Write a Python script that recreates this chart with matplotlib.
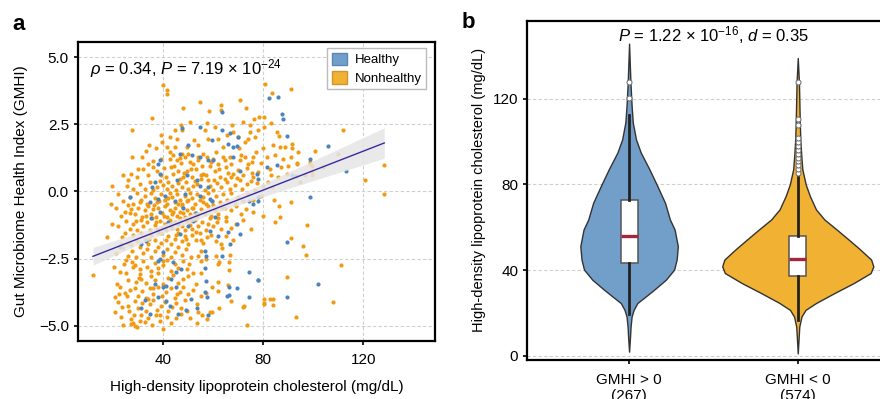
import numpy as np
import matplotlib.pyplot as plt
from matplotlib.patches import Patch
from matplotlib.transforms import blended_transform_factory

plt.rcParams['font.family'] = ['Liberation Sans', 'DejaVu Sans']
plt.rcParams['mathtext.fontset'] = 'custom'
plt.rcParams['mathtext.rm'] = 'Liberation Sans'
plt.rcParams['mathtext.it'] = 'Liberation Sans:italic'
plt.rcParams['axes.unicode_minus'] = True

# ---- panel a: HDL (mg/dL) vs GMHI ----
nonhealthy_pts = np.array([
    # GMHI > 0
    (40, 3.96), (41.3, 3.77), (41.3, 3.62), (54.7, 3.33), (58.4, 2.99), (63.1, 3.21), (63.1, 3.02),
    (80.7, 3.99), (83.3, 3.67), (91, 3.81),
    (35.6, 2.75), (27.5, 2.28), (67.6, 2.46), (78.3, 2.77), (80.4, 2.77), (74.7, 2.46), (74.7, 2.21),
    (46.9, 2.49), (47.3, 2.30), (56.7, 2.28), (68, 2.21), (78, 2.28), (80.4, 2.40), (112, 2.28),
    (38.9, 2.09), (42.7, 2.03), (45.3, 1.97), (34.3, 1.72), (41.3, 1.65), (44.7, 1.65), (49.3, 1.65),
    (54, 1.72), (58, 1.97), (62, 1.97), (64, 1.65), (70, 2.03), (74, 1.97), (76.7, 2.03), (84, 1.72),
    (86.7, 1.65), (88.7, 1.65), (91.3, 1.78), (91.5, 1.60),
    (47.3, 1.41), (93.3, 1.06), (27.3, 1.28), (31.3, 1.28), (34, 1.03), (44, 1.34), (45.3, 1.16),
    (48.7, 1.28), (52, 1.03), (54, 1.16), (56, 1.41), (60, 1.22), (62, 1.03), (64.7, 1.16), (66.7, 1.28),
    (70.7, 1.16), (72.7, 1.28), (74, 1.03), (75.3, 1.09), (98.7, 1.03), (109.7, 1.38), (93.5, 1.04),
    (91.2, 1.28), (98.5, 1.10), (36, 1.15), (39, 1.22), (42.6, 1.22), (46.6, 1.26), (50.5, 1.10),
    (57.5, 1.30), (61, 1.45),
    (36, 0.91), (37.3, 0.78), (49.3, 0.78), (60.7, 0.78), (68, 0.66), (78, 0.72), (89.3, 0.66),
    (99.3, 0.78), (128.4, 0.97), (99.6, 0.94), (99.6, 0.60), (120.7, 0.44), (27, 0.66), (29.3, 0.53),
    (44, 0.66), (51.3, 0.53), (56, 0.66), (62.7, 0.53), (76, 0.53), (32, 0.85), (40.3, 0.88), (43, 0.90),
    (46, 0.75), (53, 0.85), (58.5, 0.95), (65, 0.90), (70, 0.80), (72, 0.60), (83, 0.60), (86, 0.55),
    (34, 0.60), (39, 0.60), (48, 0.55), (55, 0.60), (67, 0.55),
    (19.3, 0.20), (25.3, 0.22), (26, 0.41), (30.7, 0.29), (32.7, 0.10), (34.7, 0.35), (37.3, 0.16),
    (42, 0.35), (46.7, 0.47), (53.3, 0.29), (58, 0.41), (65.3, 0.35), (70.7, 0.41), (73.3, 0.29),
    (28, 0.10), (36, 0.05), (38.5, 0.40), (40, 0.25), (41.5, 0.10), (43.5, 0.20), (45, 0.05),
    (47.5, 0.15), (49, 0.35), (50, 0.10), (52, 0.20), (55, 0.45), (56.5, 0.05), (58.8, 0.20), (60, 0.05),
    (61.5, 0.30), (63, 0.15), (64.5, 0.45), (66.5, 0.10), (68.5, 0.25), (71.5, 0.10), (75, 0.40),
    (76.5, 0.05), (77.5, 0.30), (80, 0.20), (82, 0.35),
    (41, 0.55), (42.8, 1.45), (44.2, 0.95), (45.8, 0.3), (47, 1.05), (48.2, 0.7), (49.8, 1.4),
    (51, 0.85), (52.6, 0.4), (53.8, 1.3), (55.6, 0.95), (57, 0.62), (59, 1.1), (60.4, 0.42),
    (62.2, 0.82), (63.8, 1.28), (65.8, 0.68), (67.2, 1.02), (69.4, 0.5), (71, 1.35), (73.4, 0.88),
    (75.6, 0.7), (79, 1.05), (81.5, 1.3), (77, 1.45), (44.6, 2.3), (50.6, 2.6), (52.4, 1.9),
    (57.4, 2.55), (60.8, 2.4), (65.4, 2.1), (72, 2.6), (85.4, 2.2), (48, 3.1), (70.5, 3.4),
    (33, 1.5), (30, 0.85), (24, 0.6), (37, 1.6), (39.6, 1.85), (83.6, 0.15), (87.2, 0.9),
    (94.6, 0.35), (88, 1.2),
    (70.2, 1.6), (72.8, 1.85), (75.8, 1.3), (79.8, 1.6), (82.6, 0.85), (84.6, 1.35), (86.4, 2.05),
    (90, 0.95), (94, 1.45), (96.5, 0.6), (76.2, 2.7), (73, 3.1), (83, 2.55), (100.5, 1.5), (104, 0.9),
    # GMHI < 0
    (22, -0.1), (24, -0.35), (26.5, -0.2), (28, -0.45), (29.5, -0.05), (31, -0.3), (32.5, -0.15),
    (33.5, -0.45), (35, -0.05), (36.5, -0.25), (37.5, -0.4), (39, -0.1), (40.5, -0.3), (41.5, -0.45),
    (42.5, -0.05), (43.5, -0.2), (44.5, -0.4), (45.5, -0.1), (46.5, -0.3), (47.5, -0.45), (48.5, -0.15),
    (49.5, -0.35), (50.5, -0.05), (51.5, -0.25), (52.5, -0.45), (53.5, -0.1), (54.5, -0.3), (56, -0.2),
    (57, -0.45), (58, -0.05), (59.5, -0.35), (61, -0.15), (62.5, -0.4), (64, -0.1), (65.5, -0.3),
    (67, -0.05), (68.5, -0.45), (70, -0.2), (72, -0.35), (74, -0.1), (76, -0.3), (79, -0.15),
    (84.4, -0.32), (128.4, -0.1), (91, -0.4),
    (23, -0.9), (25.9, -0.52), (27.2, -0.65), (28.5, -0.85), (30, -0.6), (31.5, -0.95), (32.5, -0.7),
    (34, -0.55), (35, -0.85), (36, -0.65), (37, -0.95), (38, -0.6), (39.5, -0.8), (40.5, -0.55),
    (41.5, -0.95), (42.5, -0.7), (43.5, -0.85), (44.5, -0.6), (45.5, -0.9), (46.5, -0.75), (47.5, -0.55),
    (48.5, -0.95), (49.5, -0.7), (50.5, -0.85), (51.5, -0.6), (52.5, -0.8), (53.5, -0.95), (55, -0.65),
    (56.5, -0.85), (58, -0.55), (59, -0.9), (60.5, -0.7), (62, -0.85), (63.5, -0.6), (65, -0.95),
    (67, -0.7), (69, -0.55), (71, -0.85), (73, -0.65), (76, -0.75), (86.4, -0.53), (80, -0.9),
    (22, -1.3), (25, -1.1), (26.5, -1.4), (28, -1.2), (29.5, -1.45), (31, -1.05), (32, -1.3),
    (33.5, -1.15), (34.5, -1.45), (35.5, -1.0), (36.5, -1.25), (37.5, -1.4), (38.5, -1.1), (39.5, -1.35),
    (40.5, -1.2), (41.2, -1.45), (42.5, -1.05), (43.5, -1.35), (44.5, -1.15), (45.5, -1.4), (46.5, -1.0),
    (47.5, -1.3), (48.5, -1.45), (49.5, -1.1), (50.5, -1.25), (51.5, -1.4), (52.5, -1.05), (54, -1.3),
    (55.5, -1.15), (57, -1.45), (58.5, -1.0), (60, -1.3), (61.5, -1.15), (63, -1.4), (65, -1.1),
    (67, -1.35), (69, -1.2), (72, -1.05), (75, -1.4), (86.7, -0.96), (84.8, -1.15), (97.3, -1.26),
    (17.6, -1.7), (23.4, -1.7), (26, -1.9), (28, -1.6), (29.5, -1.85), (31, -1.55), (32.5, -1.75),
    (34, -1.95), (35, -1.6), (36.5, -1.8), (38, -1.55), (39, -1.9), (42, -1.65), (43, -1.95),
    (44.5, -1.75), (46, -1.55), (47.5, -1.85), (48.5, -1.65), (50, -1.95), (51.5, -1.6), (53, -1.8),
    (54.5, -1.55), (56, -1.9), (57.5, -1.7), (59, -1.6), (61, -1.85), (63, -1.95), (65, -1.65),
    (68, -1.8), (91, -1.74), (95.7, -2.03),
    (24, -2.1), (26, -2.4), (27.5, -2.2), (29, -2.45), (30.5, -2.05), (32, -2.3), (33.5, -2.15),
    (35, -2.45), (36.5, -2.2), (38, -2.05), (40, -2.35), (41.5, -2.15), (43, -2.45), (44.5, -2.25),
    (46, -2.05), (47.5, -2.35), (49, -2.15), (51, -2.45), (54, -2.39), (55, -2.2), (57.1, -2.5),
    (61, -2.39), (63.5, -2.1), (66.7, -2.38), (96.9, -2.35),
    (27.5, -2.64), (27.9, -2.82), (28.6, -2.72), (30.5, -2.9), (32, -2.6), (33.5, -2.8), (35, -2.95),
    (36.5, -2.65), (38, -2.85), (40, -2.75), (41.5, -2.55), (43, -2.95), (44.5, -2.7), (46, -2.85),
    (48, -2.6), (49.5, -2.9), (52, -3.03), (55, -2.57), (55, -3.03), (61.8, -2.68), (62.4, -2.64),
    (66.3, -2.61), (66.1, -2.93), (111, -2.72),
    (11.8, -3.12), (21.6, -3.45), (22.8, -3.0), (30.6, -3.07), (31.2, -3.26), (33, -3.4), (35, -3.15),
    (36.5, -3.3), (38, -3.05), (40, -3.45), (42, -3.2), (44, -3.1), (46, -3.4), (48, -3.25), (50, -3.15),
    (53, -3.45), (62, -3.38), (66, -3.47), (89.6, -3.18),
    (20.6, -3.94), (22.8, -3.54), (24.8, -3.76), (28.8, -3.6), (29.9, -3.88), (31.5, -3.7), (33, -3.95),
    (34.5, -3.6), (36, -3.8), (38, -3.55), (39.5, -3.9), (41, -3.75), (43, -3.6), (44.5, -3.95),
    (46.5, -3.75), (48, -3.55), (50, -3.82), (52, -3.65), (55, -3.9), (57.2, -3.79), (59.6, -3.57),
    (62, -3.7), (80.3, -4.0),
    (20.8, -4.5), (25.9, -4.25), (28.8, -4.07), (30, -4.35), (31.5, -4.15), (33, -4.45), (34.5, -4.2),
    (36, -4.05), (37.5, -4.4), (39, -4.25), (40.5, -4.1), (42, -4.45), (43.5, -4.3), (45, -4.15),
    (47, -4.35), (48.5, -4.05), (49.3, -4.44), (53.4, -4.19), (54, -4.5), (58.7, -4.5), (59.3, -4.47),
    (62.4, -4.32), (67, -4.09), (72, -4.3), (72.4, -4.25), (80.3, -4.2), (82.7, -4.0), (84, -4.0),
    (84, -4.23), (80.4, -4.16), (107.7, -4.1),
    (23, -4.66), (27.2, -4.75), (27.9, -4.88), (27, -4.94), (28.6, -5.0), (29.6, -5.03), (31, -4.6),
    (32.5, -4.85), (34, -4.7), (35.5, -4.95), (37, -4.6), (38.5, -4.8), (40, -5.1), (41.5, -4.65),
    (43, -4.9), (45, -4.7), (47, -4.55), (50.7, -4.69), (57.4, -4.75), (55.5, -4.6), (73.6, -4.97),
    (92.9, -4.66),
    (26.8, -0.8), (29.2, -1.1), (30.6, -0.4), (33, -0.9), (34.2, -1.75), (36.2, -0.5), (37.2, -1.15),
    (38.4, -0.35), (39.2, -1.55), (40.2, -0.9), (41, -1.8), (42, -0.25), (43, -1.2), (44, -0.75),
    (45, -1.6), (46, -0.45), (47, -1.1), (48, -0.8), (49, -1.75), (50, -0.3), (51, -1.05), (52, -0.6),
    (53, -1.5), (54, -0.85), (55, -1.8), (56, -0.4), (57.8, -1.2), (60, -0.5), (62, -1.0),
    (64.6, -0.6), (40, -2.6), (36, -3.6), (33.8, -4.0), (30.4, -3.2), (45.6, -3.8), (50.2, -2.7),
    (38.6, -4.6), (26, -3.3), (24.2, -2.7), (53.4, -4.9), (21, -0.6), (19.6, -1.2), (24.6, -1.55),
    (27, -2.0), (25.4, -3.9), (23.6, -4.3),
    (21.2, -2.3), (22.4, -3.8), (24, -4.95), (25.2, -3.05), (26.2, -4.45), (25, -2.55), (23.2, -1.95),
    (21.8, -4.1), (26.6, -3.65), (29, -3.35), (28.4, -4.6), (30.8, -4.8), (20.2, -2.8), (24.6, -0.75),
    (19, -0.45),
])

healthy_pts = np.array([
    (63.3, 2.96), (82.4, 3.46), (86, 3.51), (87.6, 2.87), (88, 2.71), (47.3, 2.36), (54.7, 2.40),
    (63.3, 2.30), (66.7, 2.18), (70, 2.03), (59.6, 1.93), (89.3, 2.05), (66, 1.78), (68, 1.65),
    (69.3, 1.69), (50, 1.72), (106, 1.70), (38, 1.03), (38.7, 1.16), (46.7, 1.41), (51.3, 1.34),
    (54.7, 1.28), (58, 1.16), (60, 1.18), (68, 1.28), (70.7, 0.78), (77.6, 0.66), (78, 0.47),
    (81.3, 0.91), (85.6, 0.97), (98.7, 1.22), (91.3, 0.63), (92.9, 0.57), (112.9, 0.78), (36.7, 0.35),
    (38.7, 0.66), (35.3, 0.16), (45.3, 0.41), (49.3, 0.60), (53.3, 0.41), (54.7, 0.22), (58, 0.16),
    (26.6, -0.19), (38.6, -0.77), (37.9, -1.43), (41.9, -1.14), (43.2, -1.27), (46.6, -1.58),
    (45.9, -1.21), (33.2, -1.83), (31.2, -1.95), (22.6, -2.08), (39.9, -2.26), (38.6, -2.51),
    (37.9, -2.57), (43.9, -2.64), (47.2, -2.89), (45.2, -3.01), (43.2, -3.26), (41.2, -3.51),
    (36.6, -3.45), (39.9, -3.57), (45.2, -3.57), (41.2, -4.07), (42.6, -4.25), (37.9, -3.94),
    (32.6, -4.04), (31.2, -4.32), (34.6, -4.56), (45.9, -4.56), (49.2, -4.42), (37.9, -0.27),
    (44.6, -0.34), (40.8, -0.15), (34.6, -0.4), (48.6, -0.09), (54.7, -0.15), (58.7, -0.27),
    (59.4, -0.34), (60.7, -0.96), (52, -1.08), (50, -1.27), (58.7, -1.46), (62, -1.64), (66, -1.52),
    (66.7, -1.95), (70.7, -1.58), (69.4, -1.21), (56.7, -2.2), (57, -2.39), (63.6, -2.39),
    (56.7, -2.86), (57.2, -3.32), (56.6, -3.72), (57.6, -3.94), (51.1, -4.0), (53.4, -4.32),
    (57.8, -4.59), (65.4, -3.88), (66.2, -3.57), (69.4, -3.59), (74.4, -2.98), (77.9, -3.29),
    (74.4, -3.92), (77.8, -0.37), (76, -0.46), (78, -0.2), (74.3, -0.34), (98.7, -0.19),
    (89.6, -1.89), (89.6, -3.91), (102, -3.44), (78, -3.28), (66.4, -3.85), (35, -1.0), (48, -0.6),
    (53, -0.8),
])

# ---- panel b: violin outlines (HDL value, half width) and box stats ----
groups = ['GMHI > 0\n(267)', 'GMHI < 0\n(574)']
pos_levels = [1.9, 8, 13.6, 18.3, 21.4, 24.6, 27.7, 30.8, 35.5, 40.2, 44.9, 51.1, 58.9, 63.6,
              71.4, 80, 87.1, 94.9, 101, 108.9, 116.7, 127.7, 145.7]
pos_half = [0, .005, .009, .015, .027, .049, .099, .148, .218, .267, .282, .289, .270, .242,
            .213, .163, .120, .069, .041, .022, .015, .008, 0]
neg_levels = [1.1, 8, 13.6, 18.3, 21.4, 24.6, 29.3, 33.9, 38.6, 41.7, 44.9, 49.6, 54.2, 58.9,
              63.6, 68.3, 74.5, 80, 87.1, 93.3, 101, 109, 127.7, 139]
neg_half = [0, .005, .009, .022, .046, .108, .218, .331, .432, .448, .435, .370, .302, .231,
            .158, .108, .072, .047, .027, .021, .015, .012, .007, 0]
box_q1 = [43.1, 37.0]
box_med = [56.0, 45.2]
box_q3 = [72.7, 56.1]
whisker_lo = [19.5, 16.7]
whisker_hi = [112.4, 84.5]
fliers = [[120.2, 128.0],
          [85.5, 87.1, 89.1, 90.9, 92.5, 94.1, 96.0, 97.7, 99.6, 101.6, 107.7, 110.5, 128.0]]

blue_dot = '#4d84bd'
orange_dot = '#f29b11'
blue_fill = '#729fca'
orange_fill = '#f1b133'
grid_kw = dict(color='#cfcfcf', linestyle=(0, (3, 2)), linewidth=0.8)

fig = plt.figure(figsize=(8.8, 3.99), dpi=100)

# Panel a
ax = fig.add_axes([0.0886, 0.1454, 0.4057, 0.7494])
ax.scatter(nonhealthy_pts[:, 0], nonhealthy_pts[:, 1], s=9, color=orange_dot, linewidths=0, zorder=3)
ax.scatter(healthy_pts[:, 0], healthy_pts[:, 1], s=9, color=blue_dot, linewidths=0, zorder=3)

all_pts = np.vstack([nonhealthy_pts, healthy_pts])
xs, ys = all_pts[:, 0], all_pts[:, 1]
slope, icpt = np.polyfit(xs, ys, 1)
xf = np.linspace(xs.min(), xs.max(), 100)
yf = slope * xf + icpt
n = len(xs)
resid = ys - (slope * xs + icpt)
s_err = np.sqrt(np.sum(resid ** 2) / (n - 2))
se = s_err * np.sqrt(1 / n + (xf - xs.mean()) ** 2 / np.sum((xs - xs.mean()) ** 2))
ax.fill_between(xf, yf - 1.96 * se, yf + 1.96 * se, color='#e6e6e6', alpha=0.85, linewidth=0, zorder=4)
ax.plot(xf, yf, color='#3a2aa0', linewidth=1.0, zorder=5)

ax.set_xlim(5.8, 148.7)
ax.set_ylim(-5.56, 5.56)
ax.set_xticks([40, 80, 120])
ax.set_yticks([-5, -2.5, 0, 2.5, 5])
ax.set_yticklabels(['\u22125.0', '\u22122.5', '0.0', '2.5', '5.0'])
ax.grid(True, **grid_kw)
ax.set_axisbelow(True)
for sp in ax.spines.values():
    sp.set_linewidth(1.6)
ax.tick_params(labelsize=11, length=3, width=1.2)
ax.tick_params(axis='x', pad=6)
ax.set_xlabel('High-density lipoprotein cholesterol (mg/dL)', fontsize=11, labelpad=9)
ax.set_ylabel('Gut Microbiome Health Index (GMHI)', fontsize=11, labelpad=8)
ax.text(0.034, 0.893, r'$\rho$ = 0.34, $P$ = 7.19 × 10$^{-24}$', transform=ax.transAxes,
        fontsize=12, va='baseline')
handles = [Patch(facecolor=blue_fill, edgecolor='#5a86b3', label='Healthy'),
           Patch(facecolor=orange_fill, edgecolor='#d0952a', label='Nonhealthy')]
ax.legend(handles=handles, loc='upper right', bbox_to_anchor=(0.975, 0.98), borderaxespad=0,
          fontsize=9.5, frameon=True, fancybox=False, edgecolor='#bbbbbb', framealpha=1,
          handlelength=1.1, handleheight=1.1, handletextpad=0.6, borderpad=0.35, labelspacing=0.35)

# Panel b
bx = fig.add_axes([0.5985, 0.0977, 0.4244, 0.8504])
for i, (lv, hw, col) in enumerate([(pos_levels, pos_half, blue_fill), (neg_levels, neg_half, orange_fill)]):
    lv = np.array(lv)
    hw = np.array(hw)
    bx.fill_betweenx(lv, i - hw, i + hw, facecolor=col, edgecolor='#333333', linewidth=1.0, zorder=2)

stats = []
for i in range(2):
    stats.append(dict(med=box_med[i], q1=box_q1[i], q3=box_q3[i], whislo=whisker_lo[i],
                      whishi=whisker_hi[i], fliers=fliers[i]))
bx.bxp(stats, positions=[0, 1], widths=0.1, patch_artist=True, showcaps=False,
       boxprops=dict(facecolor='white', edgecolor='#555555', linewidth=1.1),
       whiskerprops=dict(color='#222222', linewidth=2.0),
       medianprops=dict(color='#a3283d', linewidth=2.4, solid_capstyle='butt'),
       flierprops=dict(marker='o', markerfacecolor='white', markeredgecolor='#777777',
                       markersize=3.6, markeredgewidth=0.8),
       zorder=3)

bx.set_xlim(-0.607, 1.607)
bx.set_ylim(-2.0, 156.4)
bx.set_xticks([0, 1])
bx.set_xticklabels(groups, fontsize=11)
bx.set_yticks([0, 40, 80, 120])
bx.yaxis.grid(True, **grid_kw)
bx.set_axisbelow(True)
bx.spines['right'].set_visible(False)
for sp in ['left', 'bottom', 'top']:
    bx.spines[sp].set_linewidth(1.6)
bx.tick_params(axis='y', labelsize=11, length=3, width=1.2, pad=3)
bx.tick_params(axis='x', length=3, width=1.2, pad=6)
bx.set_ylabel('High-density lipoprotein cholesterol (mg/dL)', fontsize=10.5, labelpad=5)
tr = blended_transform_factory(bx.transData, bx.transAxes)
bx.text(0.5, 0.94, r'$P$ = 1.22 × 10$^{-16}$, $d$ = 0.35', transform=tr, ha='center',
        va='baseline', fontsize=12)

fig.text(0.0136, 0.925, 'a', fontsize=16, fontweight='bold')
fig.text(0.524, 0.93, 'b', fontsize=16, fontweight='bold')

fig.savefig('out.png', dpi=100)
